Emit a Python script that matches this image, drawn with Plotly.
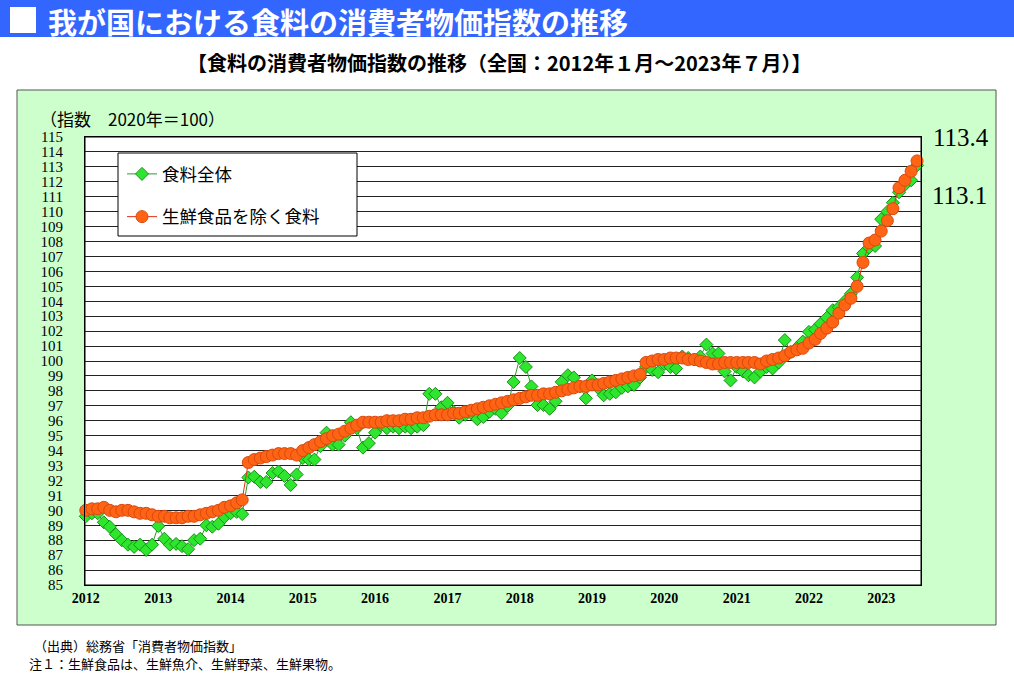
"""食料の消費者物価指数の推移（2012年1月～2023年7月）"""

import pandas as pd
import plotly.graph_objects as go

# 月次（2012年1月～2023年7月、139か月）
months = pd.date_range("2012-01-01", periods=139, freq="MS")

# 食料全体（2020年=100）
food_total = [
    89.6, 89.8, 89.8, 89.2, 88.9, 88.4, 88.0, 87.7, 87.55, 87.7, 87.35, 87.7,      # 2012
    88.95, 88.1, 87.7, 87.75, 87.6, 87.4, 88.0, 88.1, 89.0, 88.9, 89.1, 89.55,     # 2013
    89.8, 89.9, 89.75, 92.2, 92.25, 91.9, 91.9, 92.5, 92.6, 92.3, 91.7, 92.4,      # 2014
    93.5, 93.4, 93.4, 94.3, 95.2, 94.4, 94.4, 95.0, 95.9, 95.5, 94.2, 94.5,        # 2015
    95.2, 95.7, 95.5, 95.6, 95.5, 95.6, 95.5, 95.6, 95.7, 97.8, 97.8, 96.9,        # 2016
    97.2, 96.6, 96.2, 96.4, 96.5, 96.1, 96.25, 96.6, 96.8, 96.5, 97.0, 98.6,       # 2017
    100.2, 99.6, 98.3, 97.05, 97.05, 96.8, 97.3, 98.6, 99.05, 98.9, 98.3, 97.5,    # 2018
    98.7, 98.2, 97.7, 97.8, 97.9, 98.2, 98.3, 98.4, 98.9, 99.6, 99.4, 99.25,       # 2019
    99.8, 99.6, 99.5, 100.3, 100.2, 100.1, 100.3, 101.1, 100.5, 100.5, 99.3, 98.7, # 2020
    99.6, 99.3, 99.05, 98.9, 99.3, 99.6, 99.5, 99.9, 101.4, 100.6, 100.9, 101.3,   # 2021
    101.95, 102.1, 102.5, 102.9, 103.4, 103.6, 104.0, 104.5, 105.6, 107.2, 107.6, 107.7,  # 2022
    109.5, 110.0, 110.6, 111.3, 111.8, 112.1, 113.1,                               # 2023
]

# 生鮮食品を除く食料（2020年=100）
food_ex_fresh = [
    90.0, 90.1, 90.1, 90.2, 90.0, 89.9, 90.0, 90.0, 89.9, 89.8, 89.8, 89.7,        # 2012
    89.6, 89.6, 89.5, 89.5, 89.5, 89.6, 89.6, 89.7, 89.8, 89.9, 90.0, 90.2,        # 2013
    90.3, 90.5, 90.7, 93.2, 93.4, 93.5, 93.6, 93.7, 93.8, 93.8, 93.8, 93.7,        # 2014
    94.0, 94.2, 94.4, 94.6, 94.8, 95.0, 95.1, 95.3, 95.5, 95.7, 95.9, 95.9,        # 2015
    95.9, 95.9, 96.0, 96.0, 96.0, 96.1, 96.1, 96.2, 96.2, 96.3, 96.4, 96.4,        # 2016
    96.4, 96.5, 96.5, 96.6, 96.7, 96.8, 96.9, 97.0, 97.1, 97.2, 97.3, 97.4,        # 2017
    97.5, 97.6, 97.7, 97.7, 97.8, 97.8, 97.9, 98.0, 98.1, 98.2, 98.3, 98.3,        # 2018
    98.4, 98.4, 98.5, 98.6, 98.7, 98.8, 98.9, 99.0, 99.1, 99.9, 100.0, 100.1,      # 2019
    100.1, 100.2, 100.2, 100.2, 100.1, 100.1, 100.0, 99.9, 99.8, 99.8, 99.9, 99.9, # 2020
    99.9, 99.9, 99.9, 99.9, 99.8, 100.0, 100.1, 100.2, 100.35, 100.6, 100.75, 100.85,  # 2021
    101.2, 101.45, 101.85, 102.2, 102.6, 103.2, 103.75, 104.2, 105.0, 106.6, 107.9, 108.1,  # 2022
    108.7, 109.4, 110.2, 111.6, 112.1, 112.7, 113.4,                               # 2023
]

latest_labels = ["113.4", "113.1"]

JP = "Noto Sans CJK JP"
SERIF = "Liberation Serif"

# plot area in pixels: x 85..921, y 137..585
PL, PR, PT, PB = 85, 921, 137, 585


def px(x):
    return (x - PL) / (PR - PL)


def py(y):
    return (PB - y) / (PB - PT)


fig = go.Figure()
fig.add_trace(go.Scatter(
    x=months, y=food_total, name="食料全体", legendgroup="a",
    mode="lines+markers", cliponaxis=False,
    line=dict(color="#2E9A2E", width=1),
    marker=dict(symbol="diamond", size=10, color="#2EE62E", line=dict(color="#1A8F1A", width=1)),
))
fig.add_trace(go.Scatter(
    x=months, y=food_ex_fresh, name="生鮮食品を除く食料", legendgroup="b",
    mode="lines+markers", cliponaxis=False,
    line=dict(color="#E0301A", width=1),
    marker=dict(symbol="circle", size=12, color="#FF6414", line=dict(color="#D9480F", width=1)),
))

shapes = [
    # title bar
    dict(type="rect", xref="paper", yref="paper", x0=px(0), x1=px(1014), y0=py(37), y1=py(0),
         fillcolor="#3366FF", line_width=0, layer="below"),
    dict(type="rect", xref="paper", yref="paper", x0=px(10), x1=px(36), y0=py(33), y1=py(7),
         fillcolor="white", line_width=0, layer="below"),
    # green panel
    dict(type="rect", xref="paper", yref="paper", x0=px(17), x1=px(996), y0=py(625), y1=py(90),
         fillcolor="#CCFFCC", line=dict(color="#555555", width=1), layer="below"),
    # plot area
    dict(type="rect", xref="paper", yref="paper", x0=0, x1=1, y0=0, y1=1,
         fillcolor="white", line=dict(color="black", width=1), layer="below"),
    # legend box
    dict(type="rect", xref="paper", yref="paper", x0=px(118), x1=px(357), y0=py(236), y1=py(153),
         fillcolor="white", line=dict(color="black", width=1), layer="above"),
]

annotations = [
    dict(text="我が国における食料の消費者物価指数の推移", x=px(46), y=py(21), xanchor="left", yanchor="middle",
         font=dict(family=JP, size=29, color="white", weight="bold")),
    dict(text="【食料の消費者物価指数の推移（全国：2012年１月～2023年７月）】", x=px(499), y=py(62),
         xanchor="center", yanchor="middle", font=dict(family=JP, size=20, color="black", weight="bold")),
    dict(text="（指数　2020年＝100）", x=px(38), y=py(118), xanchor="left", yanchor="middle",
         font=dict(family=JP, size=17, color="black")),
    dict(text=latest_labels[0], x=px(961), y=py(137), xanchor="center", yanchor="middle",
         font=dict(family=SERIF, size=25, color="black")),
    dict(text=latest_labels[1], x=px(959), y=py(195), xanchor="center", yanchor="middle",
         font=dict(family=SERIF, size=25, color="black")),
    dict(text="（出典）総務省「消費者物価指数」", x=px(32), y=py(645), xanchor="left", yanchor="middle",
         font=dict(family=JP, size=13, color="black")),
    dict(text="注１：生鮮食品は、生鮮魚介、生鮮野菜、生鮮果物。", x=px(27), y=py(663), xanchor="left",
         yanchor="middle", font=dict(family=JP, size=13, color="black")),
]
for a in annotations:
    a.update(xref="paper", yref="paper", showarrow=False)

fig.update_layout(
    width=1014, height=673,
    margin=dict(l=PL, r=1014 - PR, t=PT, b=673 - PB, autoexpand=False),
    paper_bgcolor="white", plot_bgcolor="rgba(0,0,0,0)",
    shapes=shapes, annotations=annotations,
    legend=dict(
        x=px(122), y=py(156), xanchor="left", yanchor="top",
        bgcolor="rgba(0,0,0,0)", borderwidth=0,
        traceorder="grouped", tracegroupgap=17,
        font=dict(family=JP, size=17.5, color="black"),
    ),
    showlegend=True,
)
fig.update_xaxes(
    type="date", range=["2011-12-28", "2023-07-21"],
    tick0="2012-01-01", dtick="M12", tickformat="%Y",
    showgrid=False, zeroline=False, ticks="",
    showline=True, linecolor="black", linewidth=1, mirror=True,
    tickfont=dict(family=SERIF, size=14, color="black", weight="bold"),
)
fig.update_yaxes(
    range=[85, 115], dtick=1, tick0=85,
    showgrid=True, gridcolor="#222222", gridwidth=1, zeroline=False,
    showline=True, linecolor="black", linewidth=1, mirror=True, ticks="",
    ticklabelstandoff=18,
    tickfont=dict(family=SERIF, size=15, color="black"),
)

# the page is photographed from its top-left corner, so drop the body margin
fig.write_html(
    "out.html",
    config={"displayModeBar": False},
    post_script="document.body.style.margin='0';",
)
